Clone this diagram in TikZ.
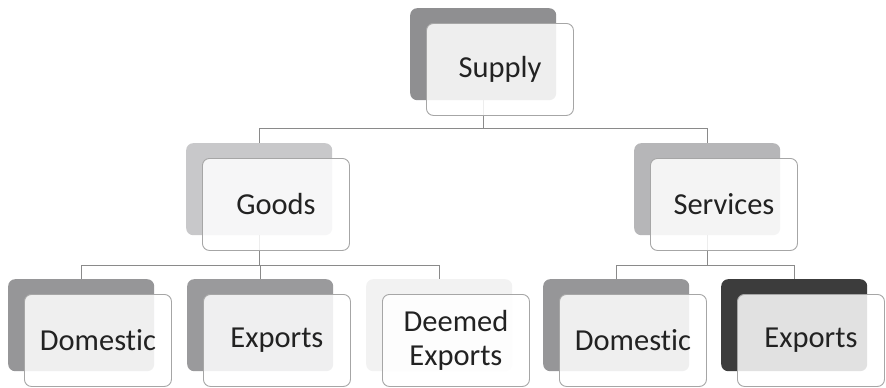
\documentclass[tikz,border=0pt]{standalone}
\usepackage{fontspec}
\setmainfont{Carlito}[Ligatures=NoCommon]
\usetikzlibrary{calc}
\definecolor{cSup}{HTML}{8F8F91}
\definecolor{cGoo}{HTML}{C8C8CA}
\definecolor{cSer}{HTML}{B6B6B8}
\definecolor{cDom}{HTML}{969698}
\definecolor{cExp}{HTML}{9A9A9C}
\definecolor{cDee}{HTML}{F2F2F2}
\definecolor{cExpB}{HTML}{3C3C3C}
\definecolor{frameC}{HTML}{A6A6A6}
\definecolor{lineC}{HTML}{8A8A8A}
\definecolor{txtC}{HTML}{222222}
\tikzset{
  backbox/.style={rectangle, rounded corners=7pt, minimum width=146pt, minimum height=92pt, inner sep=0pt, draw=none, fill=#1, anchor=north west},
  frontbox/.style={rectangle, rounded corners=7pt, minimum width=147pt, minimum height=92pt, inner sep=0pt, draw=frameC, line width=0.9pt, fill=white, fill opacity=0.85, text opacity=1, text=txtC, align=center, anchor=north west, font=\fontsize{30.5}{34}\selectfont},
  conn/.style={draw=lineC, line width=1pt}
}
\begin{document}
\begin{tikzpicture}[x=1pt,y=-1pt]
\useasboundingbox (0,0) rectangle (886,388);
\fill[white] (0,0) rectangle (886,388);
% back boxes
\node[backbox=cSup] (supB) at (410,8) {};
\node[backbox=cGoo] (gooB) at (186,143) {};
\node[backbox=cSer] (serB) at (634,143) {};
\node[backbox=cDom] (dom1B) at (8,279) {};
\node[backbox=cExp] (exp1B) at (187,279) {};
\node[backbox=cDee] (deeB) at (366,279) {};
\node[backbox=cDom] (dom2B) at (543,279) {};
\node[backbox=cExpB] (exp2B) at (721,279) {};
% connectors
\draw[conn] (supB.south) -- ++(0,28) -| (gooB.north);
\draw[conn] (supB.south) -- ++(0,28) -| (serB.north);
\draw[conn] (gooB.south) -- ++(0,30) -| (dom1B.north);
\draw[conn] (gooB.south) -- ++(0,30) -| (exp1B.north);
\draw[conn] (gooB.south) -- ++(0,30) -| (deeB.north);
\draw[conn] (serB.south) -- ++(0,30) -| (dom2B.north);
\draw[conn] (serB.south) -- ++(0,30) -| (exp2B.north);
% front boxes
\node[frontbox] (sup) at (426,23) {\raisebox{-1pt}{Supply}};
\node[frontbox] (goo) at (202,158) {Goods};
\node[frontbox] (ser) at (650,158) {Services};
\node[frontbox] (dom1) at (24,294) {Domestic};
\node[frontbox] (exp1) at (203,294) {Exports};
\node[frontbox] (dee) at (382,294) {Deemed\\Exports};
\node[frontbox] (dom2) at (559,294) {Domestic};
\node[frontbox] (exp2) at (737,294) {Exports};
\end{tikzpicture}
\end{document}
